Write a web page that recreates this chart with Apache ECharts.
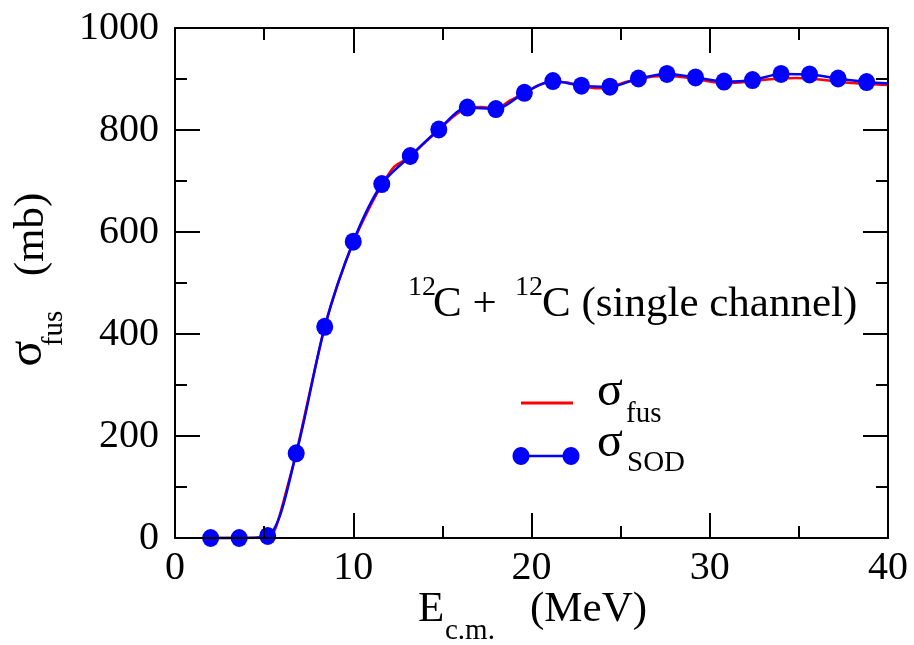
<!DOCTYPE html>
<html>
<head>
<meta charset="utf-8">
<script src="https://cdn.jsdelivr.net/npm/echarts@6/dist/echarts.min.js"></script>
<style>html,body{margin:0;padding:0;background:#fff;}#c{width:914px;height:645px;}</style>
</head>
<body>
<div id="c"></div>
<script>
// E_cm (MeV) of SOD points
const energySOD = [2.0, 3.6, 5.2, 6.8, 8.4, 10.0, 11.6, 13.2, 14.8, 16.4, 18.0, 19.6, 21.2, 22.8, 24.4, 26.0, 27.6, 29.2, 30.8, 32.4, 34.0, 35.6, 37.2, 38.8];
// sigma_SOD (mb)
const sigmaSOD = [0, 0, 4, 166, 414, 581, 694, 749, 801, 844, 841, 873, 896, 887, 885, 901, 910, 903, 895, 898, 910, 909, 901, 894];
// tail of the SOD line to the right frame
const energySODTail = [40.0];
const sigmaSODTail = [891];
// sigma_fus curve (mb)
const energyFus = [2.0, 3.6, 5.0, 5.3, 5.6, 5.9, 6.3, 6.8, 7.6, 8.4, 9.2, 10.0, 10.8, 11.6, 12.3, 13.2, 14.0, 14.8, 15.6, 16.4, 17.2, 18.0, 18.8, 19.6, 20.4, 21.2, 22.0, 22.8, 23.6, 24.4, 25.2, 26.0, 26.8, 27.6, 28.4, 29.2, 30.0, 30.8, 31.6, 32.4, 33.2, 34.0, 34.8, 35.6, 36.4, 37.2, 38.0, 38.8, 40.0];
const sigmaFus = [0, 0, 1, 5, 16, 48, 100, 166, 292, 414, 505, 580, 640, 692, 728, 748, 775, 800, 826, 843, 845, 841, 858, 872, 888, 894, 893, 886, 882, 884, 893, 899, 905, 906, 904, 900, 895, 892, 893, 896, 899, 901, 902, 901, 898, 895, 892, 890, 888];
const xTicks = [0, 10, 20, 30, 40];
const yTicks = [0, 200, 400, 600, 800, 1000];

const FONT = '"Liberation Serif", "Times New Roman", serif';
const chart = echarts.init(document.getElementById('c'));

function axisCommon(showLabel, margin) {
  return {
    axisLine: { show: true, onZero: false, lineStyle: { color: '#000', width: 2 } },
    axisTick: { show: true, inside: true, length: 25, lineStyle: { color: '#000', width: 2 } },
    minorTick: { show: true, splitNumber: 2, length: 12, lineStyle: { color: '#000', width: 2 } },
    splitLine: { show: false },
    minorSplitLine: { show: false },
    axisLabel: { show: showLabel, margin: margin, color: '#000', fontSize: 40, fontFamily: FONT,
      formatter: function (v) { return String(v); } }
  };
}

// baseline-based text helper (canvas 'middle' ~0.305em above alphabetic baseline)
function txt(text, x, baseline, fs) {
  return {
    type: 'text', x: x, y: baseline - 0.305 * fs, z: 100,
    style: { text: text, fontSize: fs, fontFamily: FONT, fill: '#000', align: 'left', verticalAlign: 'middle' }
  };
}
function rtxt(text, baselineX, centerY, fs) {
  return {
    type: 'text', x: baselineX - 0.305 * fs, y: centerY, rotation: Math.PI / 2, z: 100,
    style: { text: text, fontSize: fs, fontFamily: FONT, fill: '#000', align: 'center', verticalAlign: 'middle' }
  };
}

const xMin = xTicks[0], xMax = xTicks[xTicks.length - 1];
const yMin = yTicks[0], yMax = yTicks[yTicks.length - 1];

chart.setOption({
  backgroundColor: '#fff',
  animation: false,
  grid: { left: 175, right: 26, top: 28, bottom: 107, containLabel: false },
  xAxis: [
    Object.assign({ type: 'value', min: xMin, max: xMax, interval: 10, position: 'bottom', z: 5 }, axisCommon(true, 10)),
    Object.assign({ type: 'value', min: xMin, max: xMax, interval: 10, position: 'top', z: 5 }, axisCommon(false, 10))
  ],
  yAxis: [
    Object.assign({ type: 'value', min: yMin, max: yMax, interval: 200, position: 'left', z: 5 }, axisCommon(true, 16)),
    Object.assign({ type: 'value', min: yMin, max: yMax, interval: 200, position: 'right', z: 5 }, axisCommon(false, 16))
  ],
  series: [
    {
      name: 'fus', type: 'line', smooth: 0.25, showSymbol: false, symbol: 'none',
      data: energyFus.map((e, i) => [e, sigmaFus[i]]),
      lineStyle: { color: '#ff0000', width: 2.5 }, z: 2
    },
    {
      name: 'SOD', type: 'line', smooth: 0.3, clip: false,
      symbol: 'circle', symbolSize: [17, 18],
      data: energySOD.map((e, i) => [e, sigmaSOD[i]]).concat(
        energySODTail.map((e, i) => ({ value: [e, sigmaSODTail[i]], symbol: 'none' }))),
      itemStyle: { color: '#0000ff' },
      lineStyle: { color: '#0000ff', width: 2.5 }, z: 3
    }
  ],
  graphic: [
    // annotation
    txt('12', 408, 296, 28),
    txt('C + ', 433, 318, 43),
    txt('12', 515, 296, 28),
    txt('C (single channel)', 542, 318, 43),
    // legend
    { type: 'line', z: 100, shape: { x1: 521, y1: 403, x2: 573, y2: 403 }, style: { stroke: '#ff0000', lineWidth: 3 } },
    txt('σ', 597, 407, 48),
    txt('fus', 626, 423, 29),
    { type: 'line', z: 100, shape: { x1: 521, y1: 456, x2: 571, y2: 456 }, style: { stroke: '#0000ff', lineWidth: 2.5 } },
    { type: 'ellipse', z: 101, shape: { cx: 521, cy: 456, rx: 8.5, ry: 9 }, style: { fill: '#0000ff' } },
    { type: 'ellipse', z: 101, shape: { cx: 571, cy: 456, rx: 8.5, ry: 9 }, style: { fill: '#0000ff' } },
    txt('σ', 597, 458, 48),
    txt('SOD', 627, 472, 29),
    // x title
    txt('E', 418, 623, 43),
    txt('c.m.', 445, 640, 29),
    txt('(MeV)', 530, 623, 43),
    // y title (rotated)
    rtxt('σ', 43, 353.5, 48),
    rtxt('fus', 63, 328.5, 29),
    rtxt('(mb)', 45, 234.5, 43)
  ]
});
</script>
</body>
</html>
